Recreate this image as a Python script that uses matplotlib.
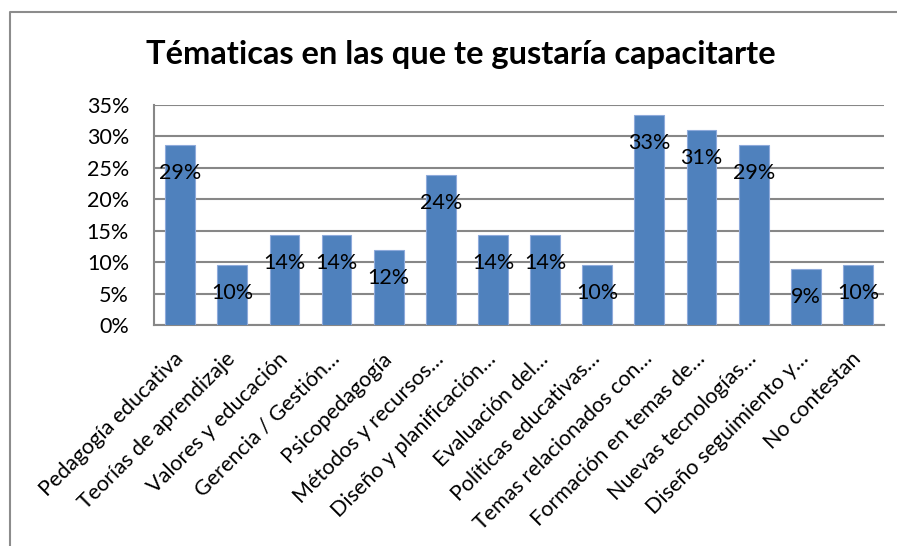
import matplotlib.pyplot as plt
from matplotlib.lines import Line2D

plt.rcParams['font.family'] = ['Lato', 'DejaVu Sans']

categories = ["Pedagogía educativa", "Teorías de aprendizaje", "Valores y educación",
              "Gerencia / Gestión…", "Psicopedagogía", "Métodos y recursos…",
              "Diseño y planificación…", "Evaluación del…", "Políticas educativas…",
              "Temas relacionados con…", "Formación en temas de…", "Nuevas tecnologías…",
              "Diseño seguimiento y…", "No contestan"]
values = [0.2857, 0.0952, 0.1429, 0.1429, 0.119, 0.238, 0.1429, 0.1429, 0.0952,
          0.3333, 0.3095, 0.2857, 0.089, 0.0952]
yticks = [0, 0.05, 0.10, 0.15, 0.20, 0.25, 0.30, 0.35]

fig = plt.figure(figsize=(8.97, 5.46), dpi=100)
ax = fig.add_axes([0.1717, 0.4042, 0.8138, 0.404])

x = range(len(categories))
ax.bar(x, values, width=0.57, color='#4F81BD', edgecolor='#8EAADB', linewidth=0.8, zorder=3)

for i, v in enumerate(values):
    ax.annotate(f"{round(v * 100):.0f}%", (i, v), xytext=(0, -20), textcoords='offset points',
                ha='center', va='center', fontsize=15.5, color='black', zorder=4)

ax.set_xlim(-0.5, len(categories) - 0.5)
ax.set_ylim(0, 0.35)
ax.set_yticks(yticks)
ax.set_yticklabels([f"{int(round(t * 100))}%" for t in yticks], fontsize=15.5)
ax.yaxis.grid(True, color='#878787', linewidth=1.5, zorder=0)
ax.tick_params(axis='y', length=0, pad=18)
ax.tick_params(axis='x', length=0, pad=22)
ax.set_xticks(list(x))
ax.set_xticklabels(categories, fontsize=15.5, rotation=45, ha='right', va='center',
                   rotation_mode='anchor')

for s in ['top', 'right']:
    ax.spines[s].set_visible(False)
for s in ['left', 'bottom']:
    ax.spines[s].set_color('#878787')
    ax.spines[s].set_linewidth(1.5)

fig.text(0.514, 0.9, "Tématicas en las que te gustaría capacitarte", ha='center', va='center',
         fontsize=23.5, fontweight='bold')

# outer chart frame (top and left edges visible)
fig.add_artist(Line2D([10 / 897, 10 / 897, 1], [0, 1 - 12 / 546, 1 - 12 / 546],
                      transform=fig.transFigure, color='#8c8c8c', linewidth=1.5))

fig.savefig('out.png', dpi=100)
